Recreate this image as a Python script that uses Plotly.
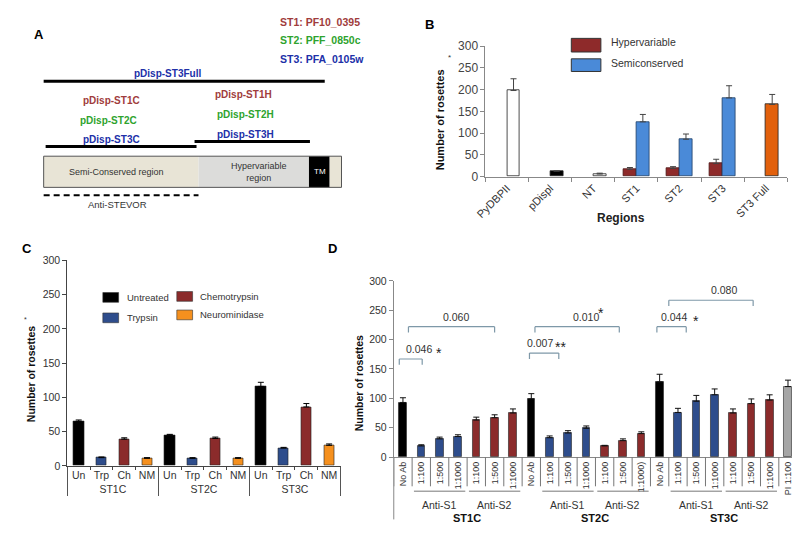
import plotly.graph_objects as go

W, H = 800, 534
FONT = "Liberation Sans, Arial, sans-serif"

# ---------------- Panel B data ----------------
b_regions = ["PyDBPII", "pDispl", "NT", "ST1", "ST2", "ST3", "ST3 Full"]
b_hyper_x = ["ST1", "ST2", "ST3"]
b_hyper = [17, 19, 30]
b_hyper_err = [4, 4, 10]
b_semi = [126, 86, 181]
b_semi_err = [17, 12, 28]
b_ctrl_x = ["PyDBPII", "pDispl", "NT", "ST3 Full"]
b_ctrl = [198, 13, 6, 166]
b_ctrl_err = [27, 0, 2, 23]
b_ctrl_colors = ["#FFFFFF", "#000000", "#FFFFFF", "#E2600C"]
b_yticks = [0, 50, 100, 150, 200, 250, 300]

# ---------------- Panel C data ----------------
c_groups = ["ST1C", "ST2C", "ST3C"]
c_treat = ["Un", "Trp", "Ch", "NM"]
c_treat_names = ["Untreated", "Trypsin", "Chemotrypsin", "Neurominidase"]
c_values = [[65, 12, 39, 11], [45, 11, 40, 11], [116, 26, 86, 30]]
c_errors = [[2, 1, 2, 1], [1, 1, 2, 1], [6, 1, 5, 2]]
c_colors = ["#000000", "#2E4D8C", "#8B2B2B", "#F5901E"]
c_yticks = [0, 50, 100, 150, 200, 250, 300]

# ---------------- Panel D data ----------------
d_groups = ["ST1C", "ST2C", "ST3C"]
d_s1_labels = [["1:100", "1:500", "1:1000"], ["1:100", "1:500", "1:1000"], ["1:100", "1:500", "1:1000"]]
d_s2_labels = [["1:100", "1:500", "1:1000"], ["1:100", "1:500", "1:1000)"], ["1:100", "1:500", "1:1000"]]
d_noab = [93, 99, 128]
d_noab_err = [8, 9, 13]
d_s1 = [[19, 31, 35], [33, 41, 49], [76, 95, 106]]
d_s1_err = [[2, 3, 3], [3, 4, 4], [7, 10, 10]]
d_s2 = [[63, 67, 75], [19, 28, 40], [75, 91, 97]]
d_s2_err = [[5, 5, 7], [1, 3, 3], [7, 8, 9]]
d_pi_label = "PI 1:100"
d_pi = 120
d_pi_err = 11
d_colors = {"noab": "#000000", "s1": "#2E4D8C", "s2": "#8B2B2B", "pi": "#A6A6A6"}
d_yticks = [0, 50, 100, 150, 200, 250, 300]
# brackets: (x from, x to, height, p-value, text x, stars, star x, star y)
d_brackets = [
    (-0.2, 1.05, 167, "0.046", 0.9, "*", 1.95, 178),
    (0.3, 5.0, 222, "0.060", 2.9, "", None, None),
    (6.9, 8.5, 177, "0.007", 7.5, "**", 8.6, 188),
    (7.2, 11.8, 222, "0.010", 10.0, "*", 10.8, 246),
    (13.85, 15.45, 222, "0.044", 14.8, "*", 16.0, 232),
    (14.5, 19.1, 267, "0.080", 17.5, "", None, None),
]


def px(x):
    return x / W


def py(y):
    return 1 - y / H


fig = go.Figure()

# ---------------- Panel B traces ----------------
fig.add_trace(go.Bar(
    x=b_hyper_x, y=b_hyper, width=0.3, offset=-0.3,
    marker=dict(color="#8E2A2A", line=dict(color="#4A1515", width=0.8)),
    error_y=dict(type="data", array=b_hyper_err, arrayminus=[0] * 3, symmetric=False,
                 color="#444", thickness=1, width=3),
    xaxis="x", yaxis="y", showlegend=False))
fig.add_trace(go.Bar(
    x=b_hyper_x, y=b_semi, width=0.3, offset=0,
    marker=dict(color="#4A8AD8", line=dict(color="#1F3F66", width=0.8)),
    error_y=dict(type="data", array=b_semi_err, arrayminus=[0] * 3, symmetric=False,
                 color="#444", thickness=1, width=3),
    xaxis="x", yaxis="y", showlegend=False))
fig.add_trace(go.Bar(
    x=b_ctrl_x, y=b_ctrl, width=0.3, offset=0,
    marker=dict(color=b_ctrl_colors, line=dict(color="#222", width=0.8)),
    error_y=dict(type="data", array=b_ctrl_err, arrayminus=[0] * 4, symmetric=False,
                 color="#444", thickness=1, width=3),
    xaxis="x", yaxis="y", showlegend=False))

# ---------------- Panel C trace ----------------
cx0, cx1, cy, ce, cc = [], [], [], [], []
for gi, g in enumerate(c_groups):
    for ti, t in enumerate(c_treat):
        cx0.append(g)
        cx1.append(t)
        cy.append(c_values[gi][ti])
        ce.append(c_errors[gi][ti])
        cc.append(c_colors[ti])
fig.add_trace(go.Bar(
    x=[cx0, cx1], y=cy, width=0.45,
    marker=dict(color=cc, line=dict(color="#222", width=0.6)),
    error_y=dict(type="data", array=ce, arrayminus=[0] * len(ce), symmetric=False,
                 color="#000", thickness=1, width=3),
    xaxis="x2", yaxis="y2", showlegend=False))

# ---------------- Panel D trace ----------------
dx, dy, de, dc, dlab = [], [], [], [], []
group_start = []
pos = 0
for gi in range(3):
    group_start.append(pos)
    dx.append(pos); dy.append(d_noab[gi]); de.append(d_noab_err[gi]); dc.append(d_colors["noab"]); dlab.append("No Ab")
    pos += 1
    for k in range(3):
        dx.append(pos); dy.append(d_s1[gi][k]); de.append(d_s1_err[gi][k]); dc.append(d_colors["s1"]); dlab.append(d_s1_labels[gi][k])
        pos += 1
    for k in range(3):
        dx.append(pos); dy.append(d_s2[gi][k]); de.append(d_s2_err[gi][k]); dc.append(d_colors["s2"]); dlab.append(d_s2_labels[gi][k])
        pos += 1
dx.append(pos); dy.append(d_pi); de.append(d_pi_err); dc.append(d_colors["pi"]); dlab.append(d_pi_label)
n_d = len(dx)

fig.add_trace(go.Bar(
    x=dx, y=dy, width=0.42,
    marker=dict(color=dc, line=dict(color="#222", width=0.6)),
    error_y=dict(type="data", array=de, arrayminus=[0] * n_d, symmetric=False,
                 color="#111", thickness=1, width=3),
    xaxis="x3", yaxis="y3", showlegend=False))

fig.update_layout(
    width=W, height=H, margin=dict(l=0, r=0, t=0, b=0),
    paper_bgcolor="white", plot_bgcolor="rgba(0,0,0,0)",
    font=dict(family=FONT, color="#333"),
    bargap=0,
    xaxis=dict(domain=[px(473), px(779)], anchor="y", type="category",
               categoryorder="array", categoryarray=b_regions,
               showline=True, linecolor="#888", linewidth=1,
               ticks="outside", ticklen=4, tickcolor="#888", tickson="boundaries",
               tickangle=-45, tickfont=dict(family=FONT, size=11, color="#333"),
               showgrid=False, zeroline=False),
    yaxis=dict(domain=[py(166), py(32)], anchor="x", range=[0, 300],
               tickvals=b_yticks, showline=True, linecolor="#888", linewidth=1,
               ticks="outside", ticklen=4, tickcolor="#888",
               tickfont=dict(family=FONT, size=12, color="#444"),
               showgrid=False, zeroline=False),
    xaxis2=dict(domain=[px(49), px(326)], anchor="y2", type="multicategory",
                showline=True, linecolor="#444", linewidth=1,
                ticks="outside", ticklen=3, tickcolor="#444", tickson="boundaries",
                showdividers=True, dividercolor="#555", dividerwidth=1,
                tickangle=0,
                tickfont=dict(family=FONT, size=10.5, color="#333"),
                showgrid=False, zeroline=False),
    yaxis2=dict(domain=[py(463), py(252)], anchor="x2", range=[0, 300],
                tickvals=c_yticks, showline=True, linecolor="#444", linewidth=1,
                ticks="outside", ticklen=4, tickcolor="#444",
                tickfont=dict(family=FONT, size=10.5, color="#333"),
                showgrid=False, zeroline=False),
    xaxis3=dict(domain=[px(380), px(789)], anchor="y3", range=[-0.5, n_d - 0.5],
                tickvals=dx, ticktext=dlab, tickangle=-90, ticks="",
                showline=True, linecolor="#888", linewidth=1,
                tickfont=dict(family=FONT, size=9, color="#333"),
                showgrid=False, zeroline=False),
    yaxis3=dict(domain=[py(454), py(273)], anchor="x3", range=[0, 300],
                tickvals=d_yticks, showline=True, linecolor="#888", linewidth=1,
                ticks="outside", ticklen=4, tickcolor="#888",
                tickfont=dict(family=FONT, size=10.5, color="#333"),
                showgrid=False, zeroline=False),
)

shapes = []
ann = []


def text(x, y, s, size=10, color="#333", bold=False, xanchor="center", yanchor="middle", angle=0, xref="paper", yref="paper"):
    if bold:
        s = "<b>" + s + "</b>"
    ann.append(dict(x=x, y=y, xref=xref, yref=yref, text=s, showarrow=False,
                    font=dict(family=FONT, size=size, color=color),
                    xanchor=xanchor, yanchor=yanchor, textangle=angle))


def line(x0, y0, x1, y1, color="#000", width=1, dash="solid"):
    shapes.append(dict(type="line", xref="paper", yref="paper", x0=px(x0), y0=py(y0), x1=px(x1), y1=py(y1),
                       line=dict(color=color, width=width, dash=dash)))


def rect(x0, y0, x1, y1, fill, lc="rgba(0,0,0,0)", lw=0):
    shapes.append(dict(type="rect", xref="paper", yref="paper", x0=px(x0), y0=py(y0), x1=px(x1), y1=py(y1),
                       fillcolor=fill, line=dict(color=lc, width=lw)))


RED_T, GREEN_T, BLUE_T = "#A03C3C", "#2EA32E", "#2030A8"

# ---------------- Panel A ----------------
text(px(20), py(20), "A", size=13, color="#000", bold=True)
text(px(263), py(7), "ST1: PF10_0395", size=10.5, color=RED_T, bold=True, xanchor="left")
text(px(263), py(26), "ST2: PFF_0850c", size=10.5, color=GREEN_T, bold=True, xanchor="left")
text(px(263), py(45), "ST3: PFA_0105w", size=10.5, color=BLUE_T, bold=True, xanchor="left")
text(px(151), py(60), "pDisp-ST3Full", size=10, color=BLUE_T, bold=True)
line(25, 68, 310, 68, width=3)
text(px(94), py(88), "pDisp-ST1C", size=10, color=RED_T, bold=True)
text(px(91), py(108), "pDisp-ST2C", size=10, color=GREEN_T, bold=True)
text(px(94), py(128), "pDisp-ST3C", size=10, color=BLUE_T, bold=True)
line(27, 135, 180, 135, width=3)
text(px(228), py(82), "pDisp-ST1H", size=10, color=RED_T, bold=True)
text(px(230), py(102), "pDisp-ST2H", size=10, color=GREEN_T, bold=True)
text(px(230), py(123), "pDisp-ST3H", size=10, color=BLUE_T, bold=True)
line(178, 130, 295, 130, width=3)
rect(25, 145, 182, 177, "#E8E4D6")
rect(182, 145, 294, 177, "#DCDCDA")
rect(294, 145, 315, 177, "#000000")
rect(315, 145, 327, 177, "#E8E4D6")
rect(25, 145, 327, 177, "rgba(0,0,0,0)", "#555", 1)
text(px(99), py(161), "Semi-Conserved region", size=9, color="#333")
text(px(243), py(161), "Hypervariable<br>region", size=9, color="#333")
text(px(305), py(161), "TM", size=8, color="#FFF")
line(25, 185, 182, 185, width=2, dash="6px,4px")
text(px(100), py(195), "Anti-STEVOR", size=9.5, color="#333")

# ---------------- Panel B extras ----------------
text(px(416), py(10), "B", size=13, color="#000", bold=True)
text(px(427), py(108), "Number of rosettes", size=11, color="#111", bold=True, angle=-90)
text(px(437), py(44), "*", size=8, color="#333")
text(px(610), py(208), "Regions", size=12, color="#222", bold=True)
rect(560, 24, 590, 38, "#8E2A2A", "#333", 1)
rect(560, 45, 590, 58, "#4A8AD8", "#333", 1)
text(px(598), py(28), "Hypervariable", size=10.5, color="#333", xanchor="left")
text(px(598), py(49), "Semiconserved", size=10.5, color="#333", xanchor="left")

# ---------------- Panel C extras ----------------
text(px(8), py(240), "C", size=13, color="#000", bold=True)
text(px(13), py(369), "Number of rosettes", size=10.5, color="#111", bold=True, angle=-90)
text(px(7), py(313), "*", size=7, color="#333")
legend_pos = [(85, 290), (85, 311), (160, 289), (160, 308)]
for (lx, ly), name, col in zip(legend_pos, c_treat_names, c_colors):
    rect(lx, ly - 5, lx + 16, ly + 5, col, "#333", 0.6)
    text(px(lx + 22), py(ly), name, size=9.5, color="#333", xanchor="left")

# ---------------- Panel D extras ----------------
text(px(318), py(240), "D", size=13, color="#000", bold=True)
text(px(345), py(378), "Number of rosettes", size=10.5, color="#111", bold=True, angle=-90)
line(380, 454, 380, 518, color="#888")
for b in range(n_d + 1):
    shapes.append(dict(type="line", xref="x3", yref="paper", x0=b - 0.5, x1=b - 0.5,
                       y0=py(454), y1=py(484), line=dict(color="#777", width=1)))
for gi, g in enumerate(d_groups):
    s = group_start[gi]
    for (a0, a1, name) in [(s + 1, s + 3, "Anti-S1"), (s + 4, s + 6, "Anti-S2")]:
        shapes.append(dict(type="line", xref="x3", yref="paper", x0=a0 - 0.4, x1=a1 + 0.4,
                           y0=py(489), y1=py(489), line=dict(color="#777", width=1)))
        text((a0 + a1) / 2, py(503), name, size=10.5, color="#333", xref="x3")
    text(s + 3.5, py(517), g, size=11, color="#111", bold=True, xref="x3")

for (x0, x1, h, p, tx, st, sx, sy) in d_brackets:
    for seg in [(x0, h - 10, x0, h), (x0, h, x1, h), (x1, h, x1, h - 10)]:
        shapes.append(dict(type="line", xref="x3", yref="y3", x0=seg[0], y0=seg[1], x1=seg[2], y1=seg[3],
                           line=dict(color="#7E98A8", width=1.2)))
    ann.append(dict(x=tx, y=h, xref="x3", yref="y3", text=p, showarrow=False,
                    font=dict(family=FONT, size=10.5, color="#333"), yanchor="bottom", yshift=2))
    if st:
        ann.append(dict(x=sx, y=sy, xref="x3", yref="y3", text=st, showarrow=False,
                        font=dict(family=FONT, size=14, color="#222")))

fig.update_layout(shapes=shapes, annotations=ann)
fig.write_html("out.html")
